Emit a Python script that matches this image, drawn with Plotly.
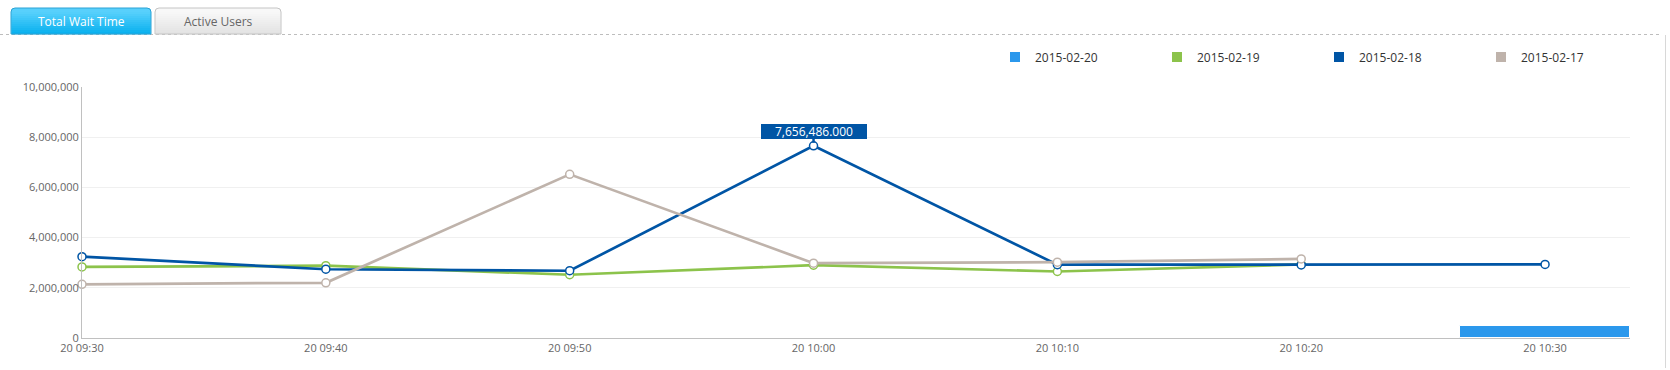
import plotly.graph_objects as go
import datetime as dt

# ---------------- data ----------------
times = ["2015-02-20 09:30", "2015-02-20 09:40", "2015-02-20 09:50", "2015-02-20 10:00",
         "2015-02-20 10:10", "2015-02-20 10:20", "2015-02-20 10:30"]
series_names = ["2015-02-20", "2015-02-19", "2015-02-18", "2015-02-17"]
series_colors = ["#2b98ec", "#8cc34b", "#0055a5", "#bfb3ab"]
s_0220 = [None, None, None, None, None, None, 460000]
s_0219 = [2830000, 2880000, 2520000, 2900000, 2650000, 2930000, None]
s_0218 = [3240000, 2740000, 2680000, 7656486, 2920000, 2910000, 2930000]
s_0217 = [2140000, 2200000, 6520000, 2980000, 3020000, 3150000, None]
tab_labels = ["Total Wait Time", "Active Users"]
y_ticks = [0, 2000000, 4000000, 6000000, 8000000, 10000000]

FONT = "Open Sans"
W_FIG, H_FIG = 1670, 370
L, R, T, B = 82, 1630, 87, 338
BAR_WIDTH_MS = 418000

fig = go.Figure()

# bar series (current day)
fig.add_trace(go.Bar(x=times, y=s_0220, name=series_names[0], width=BAR_WIDTH_MS,
                     marker=dict(color=series_colors[0], line=dict(color="#ffffff", width=1)),
                     showlegend=False, hoverinfo="skip"))

for name, vals, col in zip(series_names[1:], [s_0219, s_0218, s_0217], series_colors[1:]):
    fig.add_trace(go.Scatter(x=times, y=vals, name=name, mode="lines+markers",
                             line=dict(color=col, width=2.7),
                             marker=dict(size=8, color="#ffffff", line=dict(color=col, width=1.5)),
                             cliponaxis=False, showlegend=False, hoverinfo="skip"))

# legend entries (square symbols)
for name, col in zip(series_names, series_colors):
    fig.add_trace(go.Scatter(x=[None], y=[None], name=name, mode="markers",
                             marker=dict(symbol="square", size=10, color=col)))

# tooltip on the peak of 2015-02-18
peak_i = max(range(len(s_0218)), key=lambda i: s_0218[i])
fig.add_annotation(x=times[peak_i], y=s_0218[peak_i], text=f"{s_0218[peak_i]:,.3f}",
                   showarrow=True, ax=0, ay=-14, arrowhead=0, arrowwidth=2.5,
                   arrowcolor="#0055a5", standoff=3, width=104, height=13,
                   bgcolor="#0055a5", bordercolor="#0055a5", borderwidth=1, borderpad=0,
                   font=dict(family=FONT, size=12, color="#ffffff"))

# ---------------- chrome (tabs etc.) ----------------
PW, PH = R - L, B - T
def px(x):
    return (x - L) / PW
def py(y):
    return (B - y) / PH

def hexmix(c1, c2, t):
    a = [int(c1[i:i + 2], 16) for i in (1, 3, 5)]
    b = [int(c2[i:i + 2], 16) for i in (1, 3, 5)]
    return "#" + "".join(f"{round(a[k] + (b[k] - a[k]) * t):02x}" for k in range(3))

def tab_path(x0, x1, y0, y1, r=4):
    return (f"M{px(x0)},{py(y1)} L{px(x0)},{py(y0 + r)} Q{px(x0)},{py(y0)} {px(x0 + r)},{py(y0)} "
            f"L{px(x1 - r)},{py(y0)} Q{px(x1)},{py(y0)} {px(x1)},{py(y0 + r)} L{px(x1)},{py(y1)} Z")

shapes = []
tabs = [(11, 151, 8, 34, "#58d0fc", "#06b0ee", "#2aa2d4", "#ffffff"),
        (155, 281, 8, 34, "#f8f8f8", "#e2e2e2", "#c4c4c4", "#666666")]
for (x0, x1, y0, y1, ctop, cbot, cb, ctext), label in zip(tabs, tab_labels):
    shapes.append(dict(type="path", xref="paper", yref="paper", path=tab_path(x0, x1, y0, y1),
                       fillcolor=ctop, line=dict(width=0), layer="above"))
    n = 11
    ys = y0 + 4
    step = (y1 - ys) / n
    for k in range(n):
        shapes.append(dict(type="rect", xref="paper", yref="paper",
                           x0=px(x0 + 0.5), x1=px(x1 - 0.5), y0=py(ys + k * step), y1=py(ys + (k + 1) * step + 0.3),
                           fillcolor=hexmix(ctop, cbot, (k + 0.5) / n), line=dict(width=0), layer="above"))
    shapes.append(dict(type="path", xref="paper", yref="paper", path=tab_path(x0, x1, y0, y1),
                       fillcolor="rgba(0,0,0,0)", line=dict(color=cb, width=1), layer="above"))
    fig.add_annotation(xref="paper", yref="paper", x=px((x0 + x1) / 2), y=py((y0 + y1) / 2 + 0.5),
                       text=label, showarrow=False, xanchor="center", yanchor="middle",
                       font=dict(family=FONT, size=12, color=ctext))

# dotted separator and right border
shapes.append(dict(type="line", xref="paper", yref="paper", x0=px(0), x1=px(1662), y0=py(34.5), y1=py(34.5),
                   line=dict(color="#bdbdbd", width=1, dash="dot"), layer="below"))
shapes.append(dict(type="line", xref="paper", yref="paper", x0=px(1665.5), x1=px(1665.5), y0=py(35), y1=py(368),
                   line=dict(color="#d8d8d8", width=1), layer="below"))

# ---------------- layout ----------------
t_last = dt.datetime.strptime(times[-1], "%Y-%m-%d %H:%M")
x_end = t_last + dt.timedelta(milliseconds=BAR_WIDTH_MS / 2)

fig.update_layout(
    width=W_FIG, height=H_FIG, autosize=False,
    margin=dict(l=L, r=W_FIG - R, t=T, b=H_FIG - B, pad=0, autoexpand=False),
    paper_bgcolor="#ffffff", plot_bgcolor="#ffffff",
    font=dict(family=FONT, size=11, color="#666666"),
    shapes=shapes,
    showlegend=True,
    legend=dict(orientation="h", xref="container", yref="container",
                x=995 / W_FIG, y=1 - 57 / H_FIG, xanchor="left", yanchor="middle",
                itemwidth=30, entrywidth=117, entrywidthmode="pixels",
                font=dict(family=FONT, size=12, color="#333333"),
                bgcolor="rgba(0,0,0,0)", traceorder="normal"),
    xaxis=dict(type="date", range=[times[0], x_end.strftime("%Y-%m-%d %H:%M:%S.%f")[:-3]],
               tick0=times[0], dtick=600000, tickformat="%d %H:%M",
               showgrid=False, zeroline=False, showline=True, linecolor="#c0c0c0", linewidth=1,
               ticks="", tickfont=dict(family=FONT, size=11, color="#666666")),
    yaxis=dict(range=[0, 10000000], tickvals=y_ticks, tickformat=",",
               showgrid=True, gridcolor="#f0f0f0", gridwidth=1, zeroline=False,
               showline=True, linecolor="#c0c0c0", linewidth=1, ticks="",
               tickfont=dict(family=FONT, size=11, color="#666666")),
    bargap=0,
)

fig.write_html("out.html", config={"displayModeBar": False},
               post_script="document.body.style.margin='0';document.body.style.overflow='hidden';")
